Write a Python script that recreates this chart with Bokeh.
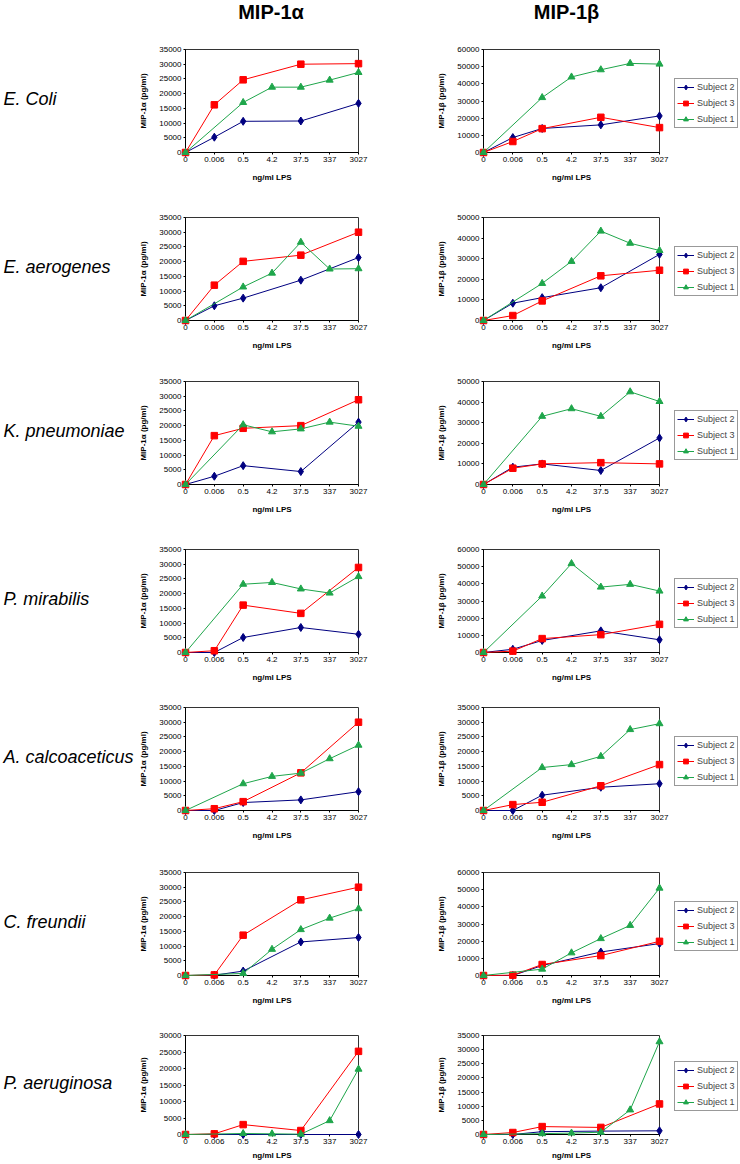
from bokeh.plotting import figure
from bokeh.models import (Range1d, FixedTicker, Legend, LegendItem,
                          NumeralTickFormatter)
from bokeh.layouts import column, row
from bokeh.embed import file_html
from bokeh.resources import INLINE
from bokeh.core.properties import value

# ---------------- data ----------------
doses = ["0", "0.006", "0.5", "4.2", "37.5", "337", "3027"]
species = ["E. Coli", "E. aerogenes", "K. pneumoniae", "P. mirabilis",
           "A. calcoaceticus", "C. freundii", "P. aeruginosa"]
titles = ["MIP-1α", "MIP-1β"]
subjects = ["Subject 2", "Subject 3", "Subject 1"]
alpha_ymax = [35000, 35000, 35000, 35000, 35000, 35000, 30000]
beta_ymax = [60000, 50000, 50000, 60000, 35000, 60000, 35000]

N = None
# MIP-1alpha (pg/ml), one list per species, values by dose
alpha_subject2 = [
    [0, 5200, 10600, N, 10700, N, 16700],
    [0, 5000, 7600, N, 13700, N, 21400],
    [0, 2800, 6400, N, 4400, N, 21200],
    [0, 0, 5100, N, 8500, N, 6200],
    [0, 0, 2700, N, 3600, N, 6400],
    [0, 100, 1500, N, 11400, N, 12900],
    [0, 0, 0, N, 0, N, 0],
]
alpha_subject3 = [
    [0, 16200, 24700, N, 30000, N, 30200],
    [0, 12000, 20100, N, 22200, N, 30000],
    [0, 16600, 19100, N, 20000, N, 28800],
    [0, 600, 16100, N, 13300, N, 28900],
    [0, 600, 3000, N, 12800, N, 30000],
    [0, 200, 13700, N, 25700, N, 30000],
    [0, 200, 3000, N, 1200, N, 25200],
]
alpha_subject1 = [
    [0, N, 17000, 22200, 22200, 24600, 27200],
    [0, N, 11400, 16100, 26600, 17500, 17600],
    [0, N, 20300, 17900, 18900, 21200, 19800],
    [0, N, 23200, 23800, 21600, 20200, 25800],
    [0, N, 9100, 11600, 12700, 17600, 22200],
    [0, N, 700, 8900, 15600, 19500, 22700],
    [0, N, 300, 200, 100, 4200, 19800],
]
# MIP-1beta (pg/ml)
beta_subject2 = [
    [0, 8700, 14000, N, 16100, N, 21300],
    [0, 8400, 11100, N, 15900, N, 32100],
    [0, 8400, 10000, N, 6800, N, 22600],
    [0, 1900, 7000, N, 12600, N, 7400],
    [0, 0, 5200, N, 7900, N, 9100],
    [0, 0, 5800, N, 13700, N, 18600],
    [0, 0, 1000, N, 1200, N, 1300],
]
beta_subject3 = [
    [0, 6400, 13900, N, 20500, N, 14500],
    [0, 2400, 9500, N, 21700, N, 24400],
    [0, 7900, 10000, N, 10600, N, 10000],
    [0, 800, 8100, N, 10400, N, 16400],
    [0, 2000, 2800, N, 8400, N, 15600],
    [0, 200, 6400, N, 11600, N, 19900],
    [0, 700, 2800, N, 2500, N, 10800],
]
beta_subject1 = [
    [0, N, 32000, 44000, 48200, 51900, 51500],
    [0, N, 18000, 28700, 43400, 37500, 34000],
    [0, N, 33100, 36800, 33100, 45000, 40300],
    [0, N, 32900, 51800, 38100, 39700, 35800],
    [0, N, 14600, 15600, 18400, 27500, 29500],
    [0, N, 3700, 13200, 21500, 29200, 50900],
    [0, N, 300, 500, 800, 8700, 32800],
]

# ---------------- style / geometry ----------------
FONT = "Liberation Sans"
COLORS = ["#000080", "#ff0000", "#1fa64b"]
MARKERS = [("diamond", 8), ("square", 6.5), ("triangle", 7)]

HEADER_H = 30
# per row: (fig height, top border, frame height)
row_geom = [(175, 19, 103), (164, 12, 103), (168, 12, 103), (158, 12, 103),
            (165, 12, 103), (163, 12, 103), (139, 12, 100)]
S_W = 135                        # species-name column
A_W, A_LEFT, A_FRAME = 265, 50, 173
B_W, B_LEFT, B_FRAME = 273, 83, 176
L_W = 67                         # legend column
LEG_H = 48
NAN = float("nan")


def blank(width, height, top=0, fh=None):
    fh = height if fh is None else fh
    p = figure(width=width, height=height, output_backend="svg",
               toolbar_location=None, x_range=Range1d(0, width),
               y_range=Range1d(0, fh), x_axis_location=None,
               y_axis_location=None, min_border_left=0, min_border_right=0,
               min_border_top=top, min_border_bottom=height - top - fh)
    p.grid.visible = False
    p.outline_line_color = None
    return p


def panel(ymax, series, ylabel, width, left, fw, geom, last):
    h, top, fh = geom
    p = figure(width=width, height=h, output_backend="svg", toolbar_location=None,
               x_range=Range1d(0, len(doses) - 1), y_range=Range1d(0, ymax),
               min_border_left=left, min_border_right=width - left - fw,
               min_border_top=top, min_border_bottom=h - top - fh)
    p.grid.visible = False
    p.outline_line_color = "#333333"
    p.outline_line_width = 1
    step = 10000 if ymax > 35000 else 5000
    p.yaxis.ticker = FixedTicker(ticks=list(range(0, ymax + 1, step)))
    p.yaxis.formatter = NumeralTickFormatter(format="0")
    p.xaxis.ticker = FixedTicker(ticks=list(range(len(doses))))
    p.xaxis.major_label_overrides = {i: d for i, d in enumerate(doses)}
    for ax in (p.xaxis[0], p.yaxis[0]):
        ax.axis_line_color = "black"
        ax.major_tick_line_color = "black"
        ax.major_tick_out = 2
        ax.major_tick_in = 0
        ax.minor_tick_line_color = None
        ax.major_label_standoff = 2
        ax.major_label_text_font = FONT
        ax.major_label_text_font_size = "8px"
        ax.major_label_text_color = "black"
        ax.axis_label_text_font = FONT
        ax.axis_label_text_font_size = "8px"
        ax.axis_label_text_font_style = "bold"
        ax.axis_label_text_color = "black"
    p.xaxis.axis_label = "ng/ml LPS"
    p.xaxis.axis_label_standoff = 4 if last else 8
    p.yaxis.axis_label = ylabel
    p.yaxis.axis_label_standoff = 8

    for vals, (marker, size), col in zip(series, MARKERS, COLORS):
        xs = [i for i, v in enumerate(vals) if v is not None]
        ys = [v for v in vals if v is not None]
        p.line(xs, ys, line_color=col, line_width=1, level="overlay")
        p.scatter(xs, ys, marker=marker, size=size, fill_color=col,
                  line_color=col, level="overlay")
    return p


def legend_fig(geom):
    h, top, fh = geom
    p = blank(L_W, h, top, fh)
    items = []
    for name, (marker, size), col in zip(subjects, MARKERS, COLORS):
        # legend swatches only: a single NaN point, nothing is drawn in the plot
        l = p.line(x=[NAN], y=[NAN], line_color=col, line_width=1)
        s = p.scatter(x=[NAN], y=[NAN], marker=marker, size=size, fill_color=col,
                      line_color=col)
        items.append(LegendItem(label=name, renderers=[l, s]))
    lg = Legend(items=items, location=(1, fh / 2 - LEG_H / 2 - 3),
                margin=0, padding=2, spacing=4, glyph_width=17, glyph_height=12,
                label_standoff=3, label_height=12, label_text_font=FONT,
                label_text_font_size="9px", border_line_color="#333333",
                border_line_width=1, background_fill_alpha=1)
    p.add_layout(lg, "center")
    return p


# header with the two cytokine titles
header = blank(S_W + A_W + B_W + L_W, HEADER_H)
header.text(x=[S_W + A_LEFT + A_FRAME / 2 - 1, S_W + A_W + B_LEFT + B_FRAME / 2 - 5],
            y=[HEADER_H - 11, HEADER_H - 11], text=titles,
            text_font=value(FONT), text_font_size="20px", text_font_style="bold",
            text_color="black", text_align="center", text_baseline="middle")

rows = [header]
for i, sp in enumerate(species):
    geom = row_geom[i]
    h, top, fh = geom
    last = i == len(species) - 1
    sfig = blank(S_W, h, top, fh)
    sfig.text(x=[3], y=[fh / 2 + 2], text=[sp], text_font=value(FONT),
              text_font_size="18px", text_font_style="italic", text_color="black",
              text_align="left", text_baseline="middle")
    pa = panel(alpha_ymax[i], (alpha_subject2[i], alpha_subject3[i], alpha_subject1[i]),
               "MIP-1α (pg/ml)", A_W, A_LEFT, A_FRAME, geom, last)
    pb = panel(beta_ymax[i], (beta_subject2[i], beta_subject3[i], beta_subject1[i]),
               "MIP-1β (pg/ml)", B_W, B_LEFT, B_FRAME, geom, last)
    rows.append(row(sfig, pa, pb, legend_fig(geom), spacing=0))

layout = column(*rows, spacing=0)
open("out.html", "w").write(file_html(layout, INLINE))
